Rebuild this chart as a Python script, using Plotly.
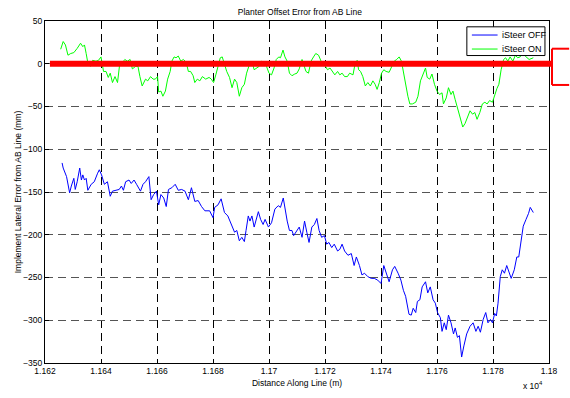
import plotly.graph_objects as go

# ---- data ----
off_x = [11626.1, 11626.5, 11627.7, 11628.8, 11629.4, 11630.3, 11630.8, 11631.5, 11632.4, 11633.0,
         11633.5, 11634.1, 11634.7, 11635.3, 11636.5, 11637.6, 11638.8, 11639.4, 11640.2, 11641.2,
         11642.3, 11643.3, 11644.1, 11645.3, 11646.5, 11647.3, 11648.0, 11648.8, 11650.0, 11650.8,
         11651.8, 11652.7, 11654.1, 11655.0, 11655.9, 11657.1, 11657.9, 11658.8, 11659.8, 11660.6,
         11661.4, 11662.4, 11663.3, 11664.1, 11665.3, 11666.5, 11667.6, 11668.8, 11670.0, 11671.2,
         11672.3, 11673.5, 11674.7, 11675.9, 11677.1, 11678.8, 11680.0, 11680.6, 11681.8, 11682.9,
         11684.1, 11685.3, 11686.5, 11687.7, 11688.5, 11689.4, 11690.3, 11691.2, 11691.8, 11692.6,
         11693.2, 11693.9, 11694.7, 11695.5, 11696.2, 11697.0, 11697.9, 11698.6, 11699.8, 11700.9,
         11702.1, 11703.3, 11704.1, 11705.1, 11705.7, 11706.5, 11707.3, 11708.2, 11708.8, 11710.0,
         11710.8, 11711.8, 11712.7, 11713.5, 11714.3, 11715.3, 11716.2, 11717.1, 11717.9, 11718.8,
         11719.8, 11720.6, 11721.4, 11722.4, 11723.3, 11724.5, 11725.3, 11726.1, 11727.0, 11728.2,
         11729.4, 11730.4, 11731.2, 11732.3, 11733.2, 11734.1, 11735.3, 11736.5, 11737.6, 11738.8,
         11740.0, 11741.0, 11741.8, 11742.9, 11744.1, 11744.9, 11746.1, 11747.1, 11748.0, 11748.8,
         11750.0, 11750.8, 11751.5, 11752.4, 11753.0, 11753.9, 11754.7, 11755.9, 11756.7, 11757.6,
         11758.6, 11759.4, 11760.2, 11761.2, 11761.8, 11762.6, 11763.3, 11764.1, 11765.0, 11765.9,
         11766.5, 11767.3, 11768.0, 11768.8, 11769.6, 11770.6, 11771.8, 11772.9, 11773.9, 11774.7,
         11775.5, 11776.5, 11777.4, 11778.2, 11779.1, 11779.8, 11780.6, 11781.2, 11781.8, 11782.6,
         11783.3, 11784.1, 11784.9, 11785.6, 11786.5, 11787.6, 11788.5, 11789.2, 11790.0, 11790.8,
         11791.8, 11792.7, 11793.3, 11794.4]
off_y = [-116, -122, -132, -151, -143, -134, -147, -138, -122, -136,
         -130, -136, -134, -148, -141, -138, -128, -124, -130, -141,
         -138, -155, -149, -148, -147, -143, -148, -138, -136, -140,
         -136, -141, -149, -141, -138, -132, -159, -153, -149, -165,
         -153, -157, -167, -147, -145, -141, -148, -147, -149, -159,
         -145, -161, -160, -167, -172, -172, -180, -168, -165, -158,
         -174, -178, -188, -197, -195, -207, -203, -208, -195, -178,
         -184, -178, -191, -180, -173, -182, -188, -182, -191, -186,
         -170, -166, -168, -157, -170, -184, -195, -195, -201, -195,
         -191, -203, -184, -197, -209, -191, -188, -181, -195, -203,
         -201, -211, -209, -215, -211, -219, -217, -211, -219, -224,
         -222, -236, -226, -236, -247, -245, -249, -251, -251, -253,
         -257, -236, -245, -255, -241, -237, -245, -253, -265, -272,
         -293, -294, -286, -291, -278, -276, -261, -255, -268, -261,
         -276, -280, -291, -297, -313, -303, -311, -294, -303, -316,
         -309, -320, -318, -343, -330, -316, -307, -303, -313, -307,
         -314, -299, -291, -303, -299, -303, -292, -295, -280, -249,
         -241, -245, -236, -243, -251, -241, -226, -226, -207, -190,
         -182, -175, -168, -174]

on_x = [11625.6, 11626.5, 11627.3, 11628.2, 11629.2, 11630.3, 11631.5, 11632.7, 11633.5, 11634.1,
        11634.7, 11635.3, 11636.2, 11637.0, 11638.2, 11639.1, 11640.0, 11640.9, 11641.8, 11642.6,
        11643.3, 11644.1, 11645.0, 11645.9, 11646.8, 11647.6, 11648.5, 11649.4, 11650.4, 11651.2,
        11652.4, 11653.2, 11653.9, 11654.7, 11655.9, 11656.7, 11657.7, 11658.6, 11659.4, 11660.2,
        11660.6, 11661.4, 11662.1, 11663.0, 11663.8, 11664.7, 11665.3, 11666.1, 11666.8, 11667.6,
        11668.5, 11669.4, 11670.4, 11671.2, 11672.0, 11672.9, 11673.5, 11674.4, 11675.3, 11676.2,
        11677.4, 11678.6, 11679.4, 11680.2, 11681.0, 11681.8, 11682.6, 11683.3, 11684.1, 11684.9,
        11685.9, 11686.8, 11687.7, 11688.5, 11689.4, 11690.3, 11691.2, 11692.0, 11693.0, 11693.9,
        11694.7, 11695.5, 11696.5, 11697.4, 11698.2, 11699.1, 11700.0, 11700.9, 11701.8, 11702.6,
        11703.5, 11704.1, 11705.0, 11705.7, 11706.5, 11707.3, 11708.2, 11709.2, 11710.0, 11710.8,
        11711.8, 11712.5, 11713.2, 11714.1, 11715.0, 11715.9, 11716.7, 11717.7, 11718.6, 11719.4,
        11720.2, 11720.9, 11721.8, 11722.6, 11723.5, 11724.5, 11725.3, 11726.1, 11727.0, 11728.0,
        11728.8, 11730.0, 11730.8, 11731.5, 11732.0, 11732.7, 11733.5, 11734.4, 11735.3, 11736.2,
        11737.1, 11737.9, 11738.6, 11739.4, 11740.2, 11741.0, 11741.8, 11742.9, 11743.8, 11744.7,
        11745.6, 11746.5, 11747.3, 11748.0, 11748.8, 11749.6, 11750.3, 11751.2, 11752.4, 11753.2,
        11754.1, 11755.1, 11755.9, 11756.5, 11757.4, 11758.2, 11759.1, 11760.0, 11760.9, 11761.8,
        11762.3, 11763.3, 11764.1, 11765.0, 11765.7, 11766.5, 11767.3, 11768.2, 11769.2, 11770.0,
        11770.8, 11771.8, 11772.7, 11773.5, 11774.3, 11775.3, 11776.2, 11777.1, 11777.9, 11778.8,
        11779.8, 11780.6, 11781.4, 11782.1, 11782.9, 11783.8, 11784.5, 11785.3, 11786.1, 11787.1,
        11788.0, 11788.8, 11789.7, 11790.5, 11791.5, 11792.9, 11794.4]
on_y = [17, 26, 22, 10, 12, 13, 18, 24, 20, 22,
        12, 1, -3, 4, 3, 4, 8, -9, -9, -16,
        -11, -22, -15, -22, 3, 1, 5, 3, 5, -6,
        -3, -3, -15, -26, -18, -20, -15, -18, -18, -15,
        -33, -32, -38, -32, -18, -9, 3, 8, 7, 9,
        3, 5, 2, -9, -9, -14, -22, -18, -20, -15,
        -18, -16, -18, -22, -13, -1, 7, 8, -2, -9,
        -16, -28, -18, -22, -38, -28, -24, -11, -1, 3,
        -7, -5, -3, 3, 1, -3, -11, -13, -5, 5,
        8, 7, 16, 8, 3, -11, -14, -12, -11, -6,
        5, -2, -9, -11, 3, 8, 12, 10, 3, 1,
        -3, -7, -5, -9, -13, -9, -13, -11, -15, -15,
        -11, -13, 1, 4, -7, -9, -15, -26, -22, -26,
        -20, -24, -30, -22, -11, -7, -9, -10, -3, 3,
        5, 8, 3, -9, -26, -38, -47, -47, -45, -38,
        -20, -12, -5, -16, -18, -12, -24, -32, -36, -34,
        -47, -40, -28, -36, -32, -42, -51, -63, -74, -70,
        -63, -55, -59, -57, -65, -57, -47, -45, -47, -43,
        -45, -36, -29, -24, -7, 5, 7, 3, 8, 3,
        10, 7, 8, 14, 9, 5, 7]

series_names = ["iSteer OFF", "iSteer ON"]
series_colors = ["#0000ff", "#00ff00"]
x_tick_vals = [11620, 11640, 11660, 11680, 11700, 11720, 11740, 11760, 11780, 11800]
x_tick_text = ["1.162", "1.164", "1.166", "1.168", "1.17", "1.172", "1.174", "1.176", "1.178", "1.18"]
y_tick_vals = [50, 0, -50, -100, -150, -200, -250, -300, -350]

FONT = "Liberation Sans, Arial, Helvetica, sans-serif"
FS = 8.5

fig = go.Figure()
fig.add_trace(go.Scatter(x=off_x, y=off_y, mode="lines", name=series_names[0],
                         line=dict(color=series_colors[0], width=1)))
fig.add_trace(go.Scatter(x=on_x, y=on_y, mode="lines", name=series_names[1],
                         line=dict(color=series_colors[1], width=1)))

axis_common = dict(showline=True, linecolor="black", linewidth=1, mirror=True,
                   ticks="inside", ticklen=4, tickcolor="black",
                   showgrid=True, gridwidth=1, griddash="8px,5px",
                   zeroline=False, tickfont=dict(family=FONT, size=FS, color="black"))

fig.update_xaxes(range=[11620, 11800], tickvals=x_tick_vals, ticktext=x_tick_text,
                 gridcolor="black",
                 title=dict(text="Distance Along Line (m)", font=dict(family=FONT, size=FS, color="black"),
                            standoff=4),
                 **axis_common)
fig.update_yaxes(range=[-350, 50], tickvals=y_tick_vals, gridcolor="#555555",
                 title=dict(text="Implement Lateral Error from AB Line (mm)",
                            font=dict(family=FONT, size=FS, color="black"), standoff=0),
                 **axis_common)

# manual legend box (paper coordinates)
lg_x0, lg_x1, lg_y0, lg_y1 = 0.837, 0.992, 0.899, 0.983
lg_rows = [0.959, 0.918]
shapes = [
    dict(type="line", xref="paper", yref="paper", x0=0.0098, x1=1.0059, y0=0.875, y1=0.875,
         line=dict(color="#ff0000", width=6), layer="above"),
    dict(type="line", xref="paper", yref="paper", x0=1.0059, x1=1.0059, y0=0.919, y1=0.813,
         line=dict(color="#ff0000", width=2), layer="above"),
    dict(type="line", xref="paper", yref="paper", x0=1.0059, x1=1.04, y0=0.919, y1=0.919,
         line=dict(color="#ff0000", width=2), layer="above"),
    dict(type="line", xref="paper", yref="paper", x0=1.0059, x1=1.04, y0=0.813, y1=0.813,
         line=dict(color="#ff0000", width=2), layer="above"),
    dict(type="rect", xref="paper", yref="paper", x0=lg_x0, x1=lg_x1, y0=lg_y0, y1=lg_y1,
         fillcolor="white", line=dict(color="black", width=1), layer="above"),
]
annotations = [
    dict(text="x 10<sup>4</sup>", xref="paper", yref="paper", x=0.993, y=-0.066,
         xanchor="right", yanchor="middle", showarrow=False,
         font=dict(family=FONT, size=FS, color="black")),
]
for name, col, ry in zip(series_names, series_colors, lg_rows):
    shapes.append(dict(type="line", xref="paper", yref="paper", x0=0.847, x1=0.898, y0=ry, y1=ry,
                       line=dict(color=col, width=1), layer="above"))
    annotations.append(dict(text=name, xref="paper", yref="paper", x=0.903, y=ry,
                            xanchor="left", yanchor="middle", showarrow=False,
                            font=dict(family=FONT, size=9, color="black")))

fig.update_layout(
    width=570, height=398, autosize=False,
    margin=dict(l=45, r=15, t=21, b=30),
    paper_bgcolor="white", plot_bgcolor="white",
    title=dict(text="Planter Offset Error from AB Line", x=0.526, xanchor="center",
               y=0.97, yanchor="middle", font=dict(family=FONT, size=FS, color="black")),
    showlegend=False,
    shapes=shapes,
    annotations=annotations,
)

fig.write_html("out.html", config={"displayModeBar": False},
               post_script="document.body.style.margin='0';document.body.style.overflow='hidden';")
